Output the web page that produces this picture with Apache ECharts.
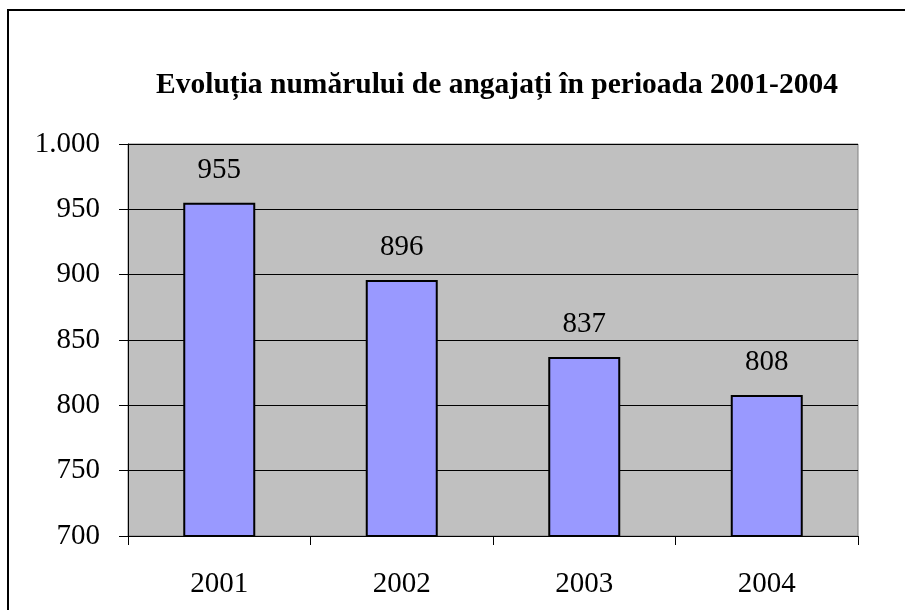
<!DOCTYPE html>
<html>
<head>
<meta charset="utf-8">
<script src="https://cdn.jsdelivr.net/npm/echarts@6/dist/echarts.min.js"></script>
<style>
html,body{margin:0;padding:0;background:#fff;}
#chart{width:905px;height:610px;}
</style>
</head>
<body>
<div id="chart"></div>
<script>
var titleText = 'Evoluția numărului de angajați în perioada 2001-2004';
var categories = ['2001', '2002', '2003', '2004'];
var employees = [955, 896, 837, 808];

var chart = echarts.init(document.getElementById('chart'));
var FONT = '"Liberation Serif", "Times New Roman", serif';

chart.setOption({
  animation: false,
  backgroundColor: '#ffffff',
  title: {
    text: titleText,
    left: 492,
    top: 65,
    textAlign: 'center',
    textStyle: { fontFamily: FONT, fontSize: 29.5, fontWeight: 'bold', color: '#000' }
  },
  graphic: [{
    type: 'rect',
    shape: { x: 8, y: 10, width: 1200, height: 1200 },
    style: { fill: 'none', stroke: '#000', lineWidth: 2 },
    silent: true
  }],
  grid: {
    left: 128, right: 47, top: 144, bottom: 74,
    show: true, backgroundColor: '#c0c0c0', borderColor: '#808080', borderWidth: 1
  },
  xAxis: {
    type: 'category',
    data: categories,
    boundaryGap: true,
    axisLine: { lineStyle: { color: '#000', width: 1 } },
    axisTick: { show: true, alignWithLabel: false, length: 9, lineStyle: { color: '#000' } },
    axisLabel: { margin: 34, fontFamily: FONT, fontSize: 29, color: '#000' }
  },
  yAxis: {
    type: 'value',
    min: 700, max: 1000, interval: 50,
    axisLine: { show: true, lineStyle: { color: '#000', width: 1 } },
    axisTick: { show: true, length: 9, lineStyle: { color: '#000' } },
    splitLine: { show: true, lineStyle: { color: '#000', width: 1 } },
    axisLabel: {
      margin: 28, fontFamily: FONT, fontSize: 29, color: '#000',
      formatter: function (v) { return v >= 1000 ? '1.' + String(v).slice(-3) : String(v); }
    }
  },
  series: [{
    type: 'bar',
    data: employees,
    barWidth: 72,
    itemStyle: { color: '#9999ff', borderColor: '#000', borderWidth: 2 },
    label: { show: true, position: 'top', distance: 18, fontFamily: FONT, fontSize: 29, color: '#000' }
  }]
});
</script>
</body>
</html>
